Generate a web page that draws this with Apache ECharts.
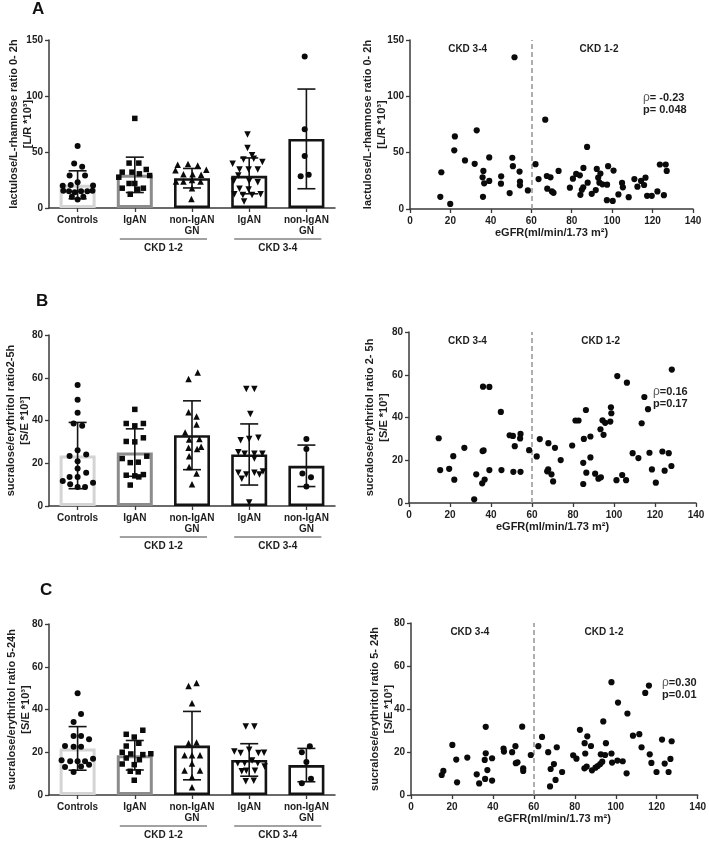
<!DOCTYPE html>
<html><head><meta charset="utf-8">
<script src="https://cdn.jsdelivr.net/npm/echarts@6/dist/echarts.min.js"></script>
<style>html,body{margin:0;padding:0;background:#fff}#c{width:709px;height:841px}</style>
</head><body><div id="c"></div>
<script>
const FONT = "'Liberation Sans', Arial, sans-serif";

// ---------- categories / labels ----------
const barCategories = ['Controls', 'IgAN', 'non-IgAN\nGN', 'IgAN', 'non-IgAN\nGN'];
const groupLabels = ['CKD 1-2', 'CKD 3-4'];
const regionLabels = ['CKD 3-4', 'CKD 1-2'];

// ---------- bar means and SD ----------
const meansA = [20.7, 29.6, 26.6, 28.7, 61.7];
const sdA    = [12.5, 15.8, 8.7, 16.0, 44.5];
const meansB = [23.6, 25.0, 33.1, 24.1, 18.8];
const sdB    = [15.5, 11.1, 16.1, 14.3, 9.7];
const meansC = [21.8, 18.6, 23.1, 16.4, 14.0];
const sdC    = [10.2, 6.9, 16.0, 7.6, 7.8];

// ---------- individual values per group: [horizontal jitter in category units, value] ----------
const dotsA = [
  [[0,55.4],[-0.06,39.8],[0.08,36.8],[-0.14,29.0],[0.13,29.0],[0,23.1],[-0.26,19.8],[-0.12,20.5],[0.27,20.1],[-0.25,15.3],[-0.15,14.9],[-0.05,14.1],[0.06,14.9],[0.17,14.9],[0.26,15.3],[-0.1,10.1],[0.1,10.1],[0,7.7]],
  [[0,80.0],[-0.1,40.1],[0.07,40.1],[-0.22,32.0],[-0.05,32.0],[0.08,30.5],[0.2,34.4],[0.26,29.0],[-0.28,27.5],[0,21.9],[-0.1,21.9],[-0.22,17.7],[0.15,17.7],[0.05,16.8],[-0.08,12.3]],
  [[-0.25,38.6],[-0.07,39.2],[0.1,38.0],[0.25,34.1],[-0.29,33.8],[-0.15,30.2],[0.01,30.2],[0.16,29.6],[-0.28,23.7],[-0.15,23.7],[0,24.9],[0.15,23.7],[0,17.7],[-0.01,8.1]],
  [[-0.03,65.6],[-0.03,53.6],[0.05,47.0],[-0.29,39.5],[-0.1,43.4],[0.08,44.0],[0.23,41.0],[-0.17,34.4],[-0.01,34.4],[0.15,34.4],[-0.19,29.0],[-0.27,24.0],[0,24.0],[0.15,23.1],[-0.17,17.1],[-0.01,16.5],[-0.26,12.3],[-0.11,11.7],[0.05,11.7],[0.2,12.3],[-0.09,5.7]],
  [[-0.03,135.3],[-0.03,70.4],[-0.03,46.4],[-0.1,28.4],[0.04,29.6]]
];
const dotsB = [
  [[0,56.6],[0,49.7],[0,43.6],[-0.07,38.6],[0.08,37.5],[0,26.1],[-0.14,23.4],[0.15,24.1],[0,20.9],[0,17.5],[-0.14,13.6],[0.15,15.5],[0,13.6],[-0.26,11.7],[0.27,10.9],[-0.13,10.2],[0,8.9],[0.13,8.9]],
  [[0,45.2],[-0.15,38.6],[0,37.5],[0.15,38.6],[-0.15,30.2],[0,30.0],[0.15,31.9],[0.21,23.3],[-0.22,22.2],[-0.08,20.3],[0.06,20.5],[-0.15,14.4],[0,14.1],[0.15,14.7],[0.07,13.6],[-0.08,9.8]],
  [[0.1,62.5],[-0.06,59.4],[-0.06,43.9],[0.08,41.9],[0.08,38.1],[-0.12,34.4],[-0.05,31.1],[0.13,31.3],[-0.06,27.3],[0.16,27.7],[0.09,26.7],[-0.05,23.3],[-0.05,18.3],[0.08,15.2],[0,10.2]],
  [[-0.05,54.7],[0.09,54.7],[0.02,43.0],[-0.15,30.8],[0,31.3],[0.16,31.9],[-0.19,25.2],[-0.08,24.5],[0.09,24.5],[0.23,24.5],[0.09,22.2],[-0.19,15.6],[-0.05,14.7],[0.09,15.6],[0.18,14.7],[0.24,16.1],[-0.13,12.8],[0,1.6]],
  [[0,31.4],[0,26.7],[-0.07,15.2],[0.08,13.4],[0,9.1]]
];
const dotsC = [
  [[0,47.6],[0.06,37.9],[-0.07,34.2],[-0.07,27.6],[0.06,27.6],[0.2,26.1],[-0.22,22.9],[-0.07,22.6],[0.06,22.6],[-0.28,16.2],[-0.13,15.8],[0,15.8],[0.13,15.8],[0.27,17.0],[-0.22,13.1],[0.06,13.3],[0.2,14.2],[-0.07,10.8]],
  [[0.14,30.3],[-0.15,28.4],[-0.01,27.1],[0.07,24.2],[-0.15,22.9],[-0.22,20.0],[-0.07,19.2],[0.14,18.9],[0.28,19.3],[-0.15,17.3],[0.08,16.5],[-0.22,14.5],[-0.01,14.2],[-0.08,11.1],[0.06,10.8],[-0.01,6.9]],
  [[-0.06,51.0],[0.08,52.4],[0,42.9],[-0.06,24.2],[0.08,24.6],[-0.13,18.6],[0,18.6],[0.14,18.6],[0,14.7],[-0.13,11.5],[0.14,11.5],[0,8.4],[0,3.6]],
  [[-0.06,32.0],[0.09,32.0],[-0.26,20.4],[-0.15,19.7],[0,21.2],[0.16,19.7],[0.26,19.8],[-0.2,14.8],[-0.08,14.8],[0.05,16.1],[0.15,14.8],[0.27,13.3],[-0.13,11.1],[-0.05,11.4],[0.1,11.4],[-0.06,6.4],[0.08,6.7]],
  [[0.06,22.8],[-0.08,20.0],[0,15.4],[-0.08,5.5],[0.08,7.6]]
];

// ---------- eGFR scatter: [eGFR, ratio] ----------
const scatterA = [[15.5,32.6],[15.0,10.8],[19.9,4.5],[21.9,52.1],[22.2,64.4],[27.2,43.1],[32.0,40.1],[33.0,69.8],[36.3,33.8],[35.9,28.1],[36.1,10.8],[36.7,22.8],[39.2,45.8],[39.2,24.9],[45.1,29.0],[45.0,22.5],[49.3,14.1],[50.6,45.5],[50.9,38.0],[51.7,134.7],[54.2,33.2],[54.4,24.3],[54.4,21.0],[58.3,16.5],[62.1,39.8],[63.6,26.6],[66.9,79.3],[67.7,29.3],[69.5,28.1],[67.9,18.0],[70.2,15.6],[71.0,14.4],[73.5,33.8],[79.1,18.9],[80.6,26.9],[82.2,31.1],[84.0,29.9],[84.3,12.6],[85.0,17.1],[85.7,19.2],[85.8,36.5],[87.6,55.1],[87.9,23.4],[89.9,13.5],[91.9,16.8],[92.4,35.6],[93.1,27.8],[94.2,31.4],[93.7,23.4],[95.2,21.9],[98.0,38.0],[97.5,21.6],[97.4,7.8],[100.7,34.1],[100.3,7.2],[103.1,12.9],[104.9,23.1],[105.3,19.2],[108.2,10.5],[111.0,26.6],[112.5,19.8],[114.3,24.9],[115.8,21.3],[116.5,27.8],[117.3,11.7],[119.6,11.7],[122.4,15.6],[123.6,39.5],[125.6,12.3],[126.5,39.5],[127.0,33.8]];
const scatterB = [[14.5,30.3],[15.2,15.4],[19.6,16.0],[21.6,21.9],[22.1,10.9],[27.0,25.8],[31.8,1.7],[32.8,13.4],[35.9,24.3],[36.4,24.6],[36.1,54.4],[39.2,54.3],[36.9,11.0],[35.7,9.2],[39.2,15.4],[44.8,42.6],[45.1,15.4],[49.1,31.7],[50.7,31.4],[51.6,26.6],[50.9,14.6],[54.4,32.3],[54.2,30.2],[54.4,14.6],[58.6,24.7],[62.3,21.8],[63.8,29.9],[68.0,28.0],[67.4,14.8],[67.9,15.7],[69.5,13.4],[70.3,10.1],[71.2,25.8],[74.0,20.1],[79.6,26.9],[81.2,38.6],[82.7,38.6],[85.0,18.8],[85.0,8.9],[85.3,30.0],[86.3,43.5],[86.5,14.2],[88.5,31.1],[88.5,21.3],[90.8,13.7],[92.4,11.4],[93.6,12.0],[93.4,34.5],[94.4,38.7],[94.9,31.9],[95.7,37.5],[98.2,38.1],[98.5,44.8],[98.7,42.0],[101.2,10.7],[101.6,59.4],[104.0,13.1],[105.9,10.7],[106.3,56.3],[109.1,23.3],[111.9,21.0],[113.5,37.3],[114.8,49.6],[116.6,43.9],[117.3,23.5],[118.5,15.7],[120.4,9.5],[123.6,24.1],[124.7,15.1],[126.7,23.3],[128.0,17.3],[128.2,62.4]];
const scatterC = [[15.0,9.3],[15.8,11.2],[20.2,23.3],[22.1,16.5],[22.5,5.9],[27.5,17.4],[32.1,9.6],[33.3,5.4],[36.2,7.5],[36.5,31.7],[36.5,19.4],[36.0,16.3],[37.3,11.6],[39.6,17.1],[39.6,6.7],[45.2,21.6],[45.4,20.2],[49.4,19.9],[51.0,22.7],[51.2,14.8],[52.0,15.2],[54.3,31.8],[54.8,12.4],[54.8,11.2],[58.5,18.6],[62.2,22.7],[64.0,27.0],[67.0,19.9],[67.9,4.0],[68.2,12.1],[69.8,14.4],[70.6,7.0],[71.2,22.2],[73.8,10.7],[79.2,18.5],[80.8,16.9],[82.5,30.3],[84.8,24.1],[85.1,19.3],[84.7,12.4],[86.1,27.3],[85.8,13.2],[87.9,22.8],[88.4,11.5],[90.1,12.7],[91.2,13.5],[92.4,14.4],[93.4,15.5],[92.7,18.9],[93.9,34.2],[94.8,18.6],[95.2,24.1],[97.9,52.5],[97.9,19.3],[98.2,15.1],[100.8,16.0],[101.1,43.0],[103.4,15.7],[105.3,10.1],[105.7,37.9],[108.4,27.6],[111.5,28.3],[112.6,22.2],[114.4,47.5],[116.2,50.9],[116.6,18.9],[117.4,14.9],[119.9,10.7],[122.6,25.8],[123.9,14.6],[125.8,10.7],[126.7,16.8],[127.3,25.0]];

const statsA = ['= -0.23', 'p= 0.048'];
const statsB = ['=0.16', 'p=0.17'];
const statsC = ['=0.30', 'p=0.01'];

// ---------- layout / styles ----------
const TXT = '#1e1e1e', AX = '#3a3a3a';
const barBorder = ['#d4d4d4', '#8c8c8c', '#141414', '#141414', '#141414'];
const barBorderW = [3, 3, 2.6, 2.6, 2.6];
const symbols = ['circle', 'rect', 'triangle', 'triangle', 'circle'];
const symRot  = [0, 0, 0, 180, 0];
const symSize = [6, 5.5, 6.5, 6.5, 6];

const panels = [
  {letter:'A', lx:32, ly:1, gapL:14, gapR:21,
   bar:{left:49, top:40, width:286, height:168}, sc:{left:410, top:40, width:283, height:169},
   yMax:150, yInt:50, means:meansA, sds:sdA, dots:dotsA, scatter:scatterA, stats:statsA,
   yName:'lactulose/L-rhamnose ratio 0- 2h\n[L/R *10³]', sName:'lactulose/L-rhamnose ratio 0- 2h\n[L/R *10³]',
   statPos:[643, 98]},
  {letter:'B', lx:36, ly:293, gapL:17, gapR:18,
   bar:{left:49, top:335, width:286, height:171}, sc:{left:409, top:332, width:287, height:171},
   yMax:80, yInt:20, means:meansB, sds:sdB, dots:dotsB, scatter:scatterB, stats:statsB,
   yName:'sucralose/erythritol ratio2-5h\n[S/E *10³]', sName:'sucralose/erythritol ratio 2- 5h\n[S/E *10³]',
   statPos:[653, 392]},
  {letter:'C', lx:40, ly:582, gapL:16, gapR:15,
   bar:{left:49, top:624, width:286, height:171}, sc:{left:411, top:623, width:289, height:172},
   yMax:80, yInt:20, means:meansC, sds:sdC, dots:dotsC, scatter:scatterC, stats:statsC,
   yName:'sucralose/erythritol ratio 5-24h\n[S/E *10³]', sName:'sucralose/erythritol ratio 5- 24h\n[S/E *10³]',
   statPos:[662, 683]}
];

const grid = [], xAxis = [], yAxis = [], series = [], graphic = [];
const axisCommon = {
  nameMoveOverlap:false,
  axisLine:{show:true, onZero:false, lineStyle:{color:AX, width:1.5}},
  axisTick:{show:true, length:4, lineStyle:{color:AX, width:1.3}},
  splitLine:{show:false},
  axisLabel:{color:TXT, fontFamily:FONT, fontWeight:'bold', fontSize:10, margin:6}
};

panels.forEach((p) => {
  // ----- bar panel -----
  const gb = grid.length;
  grid.push(Object.assign({}, p.bar));
  const xCat = xAxis.length;
  xAxis.push(Object.assign({}, axisCommon, {
    type:'category', gridIndex:gb, data:barCategories, position:'bottom',
    axisTick:{show:true, alignWithLabel:true, length:4, lineStyle:{color:AX, width:1.3}},
    axisLabel:{color:TXT, fontFamily:FONT, fontWeight:'bold', fontSize:10, margin:7, lineHeight:11, interval:0}
  }));
  const xVal = xAxis.length;
  xAxis.push({type:'value', gridIndex:gb, min:-0.5, max:4.5, show:false, position:'bottom', axisLine:{onZero:false}});
  const yb = yAxis.length;
  yAxis.push(Object.assign({}, axisCommon, {
    type:'value', gridIndex:gb, min:0, max:p.yMax, interval:p.yInt,
    name:p.yName, nameLocation:'middle', nameRotate:90, nameGap:p.gapL,
    nameTextStyle:{color:TXT, fontFamily:FONT, fontWeight:'bold', fontSize:11, lineHeight:14}
  }));
  series.push({
    type:'bar', xAxisIndex:xCat, yAxisIndex:yb, barWidth:36, z:2, silent:true,
    data:p.means.map((m, i) => ({value:m, itemStyle:{color:'#fff', borderColor:barBorder[i], borderWidth:barBorderW[i]}}))
  });
  series.push({
    type:'custom', xAxisIndex:xVal, yAxisIndex:yb, z:3, silent:true,
    data:p.means.map((m, i) => [i, m, p.sds[i]]),
    encode:{x:0, y:1},
    renderItem:(params, api) => {
      const x = api.value(0), m = api.value(1), s = api.value(2);
      const t = api.coord([x, m + s]), b = api.coord([x, Math.max(0, m - s)]);
      const hw = 9, st = {stroke:'#141414', lineWidth:1.6};
      return {type:'group', children:[
        {type:'line', shape:{x1:t[0], y1:t[1], x2:b[0], y2:b[1]}, style:st},
        {type:'line', shape:{x1:t[0]-hw, y1:t[1], x2:t[0]+hw, y2:t[1]}, style:st},
        {type:'line', shape:{x1:b[0]-hw, y1:b[1], x2:b[0]+hw, y2:b[1]}, style:st}
      ]};
    }
  });
  p.dots.forEach((grp, g) => {
    series.push({
      type:'scatter', xAxisIndex:xVal, yAxisIndex:yb, z:4, silent:true,
      symbol:symbols[g], symbolRotate:symRot[g], symbolSize:symSize[g],
      itemStyle:{color:'#0a0a0a', opacity:1},
      data:grp.map(d => [g + d[0], d[1]])
    });
  });
  // group brackets below the bar axis
  const cw = p.bar.width / 5;
  const cx = i => p.bar.left + cw * (i + 0.5);
  const yLine = p.bar.top + p.bar.height + 31;
  [[1, 2], [3, 4]].forEach((pair, k) => {
    const x1 = cx(pair[0]) - 15, x2 = cx(pair[1]) + 15;
    graphic.push({type:'line', silent:true, shape:{x1:x1, y1:yLine, x2:x2, y2:yLine}, style:{stroke:'#444', lineWidth:1}});
    graphic.push({type:'text', silent:true, x:(x1 + x2) / 2, y:yLine + 9,
      style:{text:groupLabels[k], align:'center', verticalAlign:'middle', fill:TXT, font:'bold 10px ' + FONT}});
  });
  graphic.push({type:'text', silent:true, x:p.lx, y:p.ly,
    style:{text:p.letter, align:'left', verticalAlign:'top', fill:'#111', font:'bold 17px ' + FONT}});

  // ----- scatter panel -----
  const gs = grid.length;
  grid.push(Object.assign({}, p.sc));
  const xs = xAxis.length;
  xAxis.push(Object.assign({}, axisCommon, {
    type:'value', gridIndex:gs, min:0, max:140, interval:20,
    axisLabel:{color:TXT, fontFamily:FONT, fontWeight:'bold', fontSize:10, margin:7},
    name:'eGFR(ml/min/1.73 m²)', nameLocation:'middle', nameGap:18,
    nameTextStyle:{color:TXT, fontFamily:FONT, fontWeight:'bold', fontSize:11}
  }));
  const ys = yAxis.length;
  yAxis.push(Object.assign({}, axisCommon, {
    type:'value', gridIndex:gs, min:0, max:p.yMax, interval:p.yInt,
    name:p.sName, nameLocation:'middle', nameRotate:90, nameGap:p.gapR,
    nameTextStyle:{color:TXT, fontFamily:FONT, fontWeight:'bold', fontSize:11, lineHeight:14}
  }));
  series.push({
    type:'scatter', xAxisIndex:xs, yAxisIndex:ys, z:4, silent:true,
    symbol:'circle', symbolSize:6.2, itemStyle:{color:'#0a0a0a', opacity:1},
    data:p.scatter,
    markLine:{silent:true, symbol:['none','none'], label:{show:false}, z:1,
      lineStyle:{color:'#9a9a9a', type:[5, 3], width:1.6},
      data:[{xAxis:60}]}
  });
  const px = v => p.sc.left + p.sc.width * v / 140;
  graphic.push({type:'text', silent:true, x:px(28.5), y:p.sc.top + 9,
    style:{text:regionLabels[0], align:'center', verticalAlign:'middle', fill:TXT, font:'bold 10px ' + FONT}});
  graphic.push({type:'text', silent:true, x:px(93.5), y:p.sc.top + 9,
    style:{text:regionLabels[1], align:'center', verticalAlign:'middle', fill:TXT, font:'bold 10px ' + FONT}});
  graphic.push({type:'text', silent:true, x:p.statPos[0], y:p.statPos[1],
    style:{text:'{r|ρ}' + p.stats[0], align:'left', verticalAlign:'middle', fill:TXT, font:'bold 11px ' + FONT,
      rich:{r:{fill:'#555', color:'#555', font:'normal 12px ' + FONT, fontWeight:'normal', fontSize:12, fontFamily:FONT}}}});
  graphic.push({type:'text', silent:true, x:p.statPos[0], y:p.statPos[1] + 12,
    style:{text:p.stats[1], align:'left', verticalAlign:'middle', fill:TXT, font:'bold 11px ' + FONT}});
});

const chart = echarts.init(document.getElementById('c'), null, {renderer:'canvas', width:709, height:841});
chart.setOption({
  backgroundColor:'#ffffff', animation:false,
  textStyle:{fontFamily:FONT},
  grid:grid, xAxis:xAxis, yAxis:yAxis, series:series, graphic:graphic
});
</script>
</body></html>
